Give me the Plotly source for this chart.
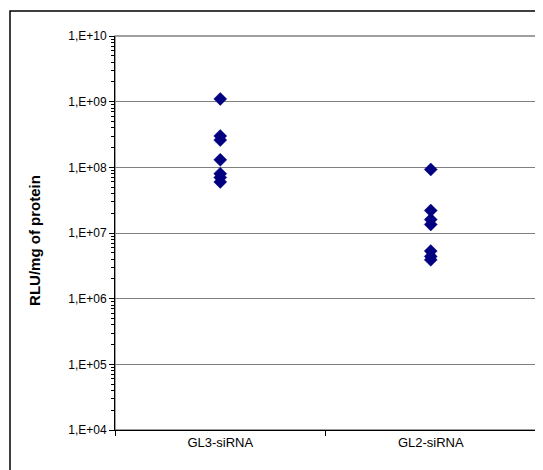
import plotly.graph_objects as go

categories = ["GL3-siRNA", "GL2-siRNA"]
gl3_values = [1.1e9, 3.0e8, 2.6e8, 1.3e8, 8.0e7, 7.0e7, 6.0e7]
gl2_values = [9.3e7, 2.2e7, 1.6e7, 1.35e7, 5.3e6, 4.4e6, 3.9e6]
y_tick_vals = [1e4, 1e5, 1e6, 1e7, 1e8, 1e9, 1e10]
y_tick_text = ["1,E+04", "1,E+05", "1,E+06", "1,E+07", "1,E+08", "1,E+09", "1,E+10"]
y_title = "RLU/mg of protein"

# page body has an 8px margin; compensate so the chart lands where the reference is
OFF = 8
W, H = 543 - OFF, 470 - OFF
L, R, T, B = 115 - OFF, 536 - OFF, 36 - OFF, 430 - OFF

fig = go.Figure()
xs = [categories[0]] * len(gl3_values) + [categories[1]] * len(gl2_values)
ys = gl3_values + gl2_values
fig.add_trace(go.Scatter(
    x=xs, y=ys, mode="markers",
    marker=dict(symbol="diamond", size=10, color="#000080",
                line=dict(width=0.5, color="#000080")),
    showlegend=False, cliponaxis=False,
))

minor_vals = [k * 10 ** e for e in range(4, 10) for k in range(2, 10)]

fig.update_layout(
    width=W, height=H,
    margin=dict(l=L, r=W - R, t=T, b=H - B),
    paper_bgcolor="white", plot_bgcolor="white",
    font=dict(family="Liberation Sans, Arial, sans-serif", size=13, color="black"),
    xaxis=dict(
        type="category", categoryorder="array", categoryarray=categories,
        range=[-0.5, 1.5], tickson="boundaries", ticks="outside", ticklen=5,
        tickcolor="black", showline=True, linecolor="black", linewidth=1,
        showgrid=False, zeroline=False, tickfont=dict(size=13),
    ),
    yaxis=dict(
        type="log", range=[4, 10], tickvals=y_tick_vals, ticktext=y_tick_text,
        ticks="outside", ticklen=5, tickcolor="black",
        showline=True, linecolor="black", linewidth=1,
        showgrid=True, gridcolor="#808080", gridwidth=1, zeroline=False,
        minor=dict(tickvals=minor_vals, ticks="outside", ticklen=3,
                   tickcolor="black", showgrid=False),
        tickfont=dict(size=12),
    ),
    shapes=[
        dict(type="rect", xref="paper", yref="paper", x0=0, x1=1, y0=0, y1=1,
             line=dict(color="#808080", width=1.5), layer="below"),
        dict(type="rect", xref="paper", yref="paper",
             x0=(2 - L) / (R - L), x1=(600 - L) / (R - L),
             y0=-(500 - B) / (B - T), y1=1 + (T - 3) / (B - T),
             line=dict(color="black", width=1.5)),
    ],
    annotations=[
        dict(text="<b>" + y_title + "</b>", xref="paper", yref="paper",
             x=(27 - L) / (R - L), y=0.48, xanchor="center", yanchor="middle",
             textangle=-90, showarrow=False, font=dict(size=15)),
    ],
)

fig.write_html("out.html")
